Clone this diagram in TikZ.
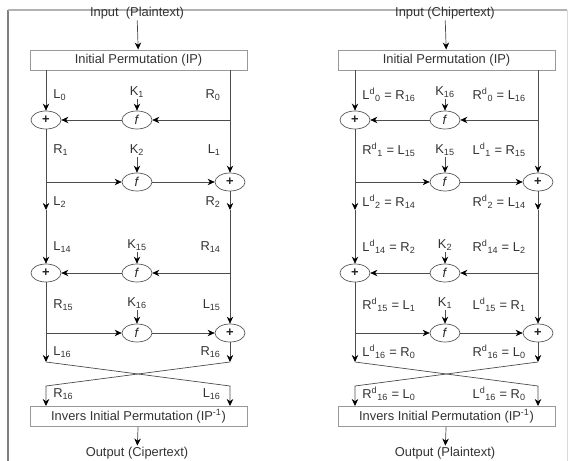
\documentclass[tikz,border=0pt]{standalone}
\usepackage{fontspec}
\setmainfont{Liberation Sans}
\usetikzlibrary{shapes,arrows.meta,calc}
\usetikzlibrary{positioning}

\tikzset{
  permbox/.style={draw=black!40,line width=0.8pt,minimum width=6.51cm,
    minimum height=0.6cm,inner sep=0pt,text=black!80},
  opnode/.style={ellipse,draw=black!65,line width=0.6pt,minimum width=0.9cm,
    minimum height=0.54cm,inner sep=0pt,text=black!85},
  lbl/.style={text=black!80,inner sep=1pt},
  wire/.style={draw=black!70,line width=0.6pt},
  arr/.style={wire,-{Stealth[length=6pt,width=5.5pt,black]}},
}

\begin{document}
\begin{tikzpicture}[x=0.03cm,y=-0.03cm,font=\fontsize{11}{13}\selectfont]
    \useasboundingbox (0,0) rectangle (571,461);
    % Frame
    \draw [black!50,line width=1.5pt] (8,461) -- (8,10);
    \draw [black!30,line width=1.2pt] (8,10) -- (567,10);
    \draw [black!15,line width=0.6pt] (567,10) -- (567,461);

    % Encryption
    \node [lbl] (lin) at (137,13) {Input\ \ (Plaintext)};
    \node [permbox] (lip) at (138.5,60) {Initial Permutation (IP)};
    \draw [arr] (lin) -- (lip);
    % round 1
    \node [opnode] (lx1) at (46,120) {\textbf{+}};
    \node [opnode] (lf1) at (137,120) {\textit{f}};
    \coordinate (lb1) at (230,120);
    \node [lbl] (lk1) at (137,92) {K\textsubscript{1}};
    \node [lbl,anchor=west] (ll0) at (52,95) {L\textsubscript{0}};
    \node [lbl,anchor=east] (lr0) at (222,95) {R\textsubscript{0}};
    \draw [arr] (lk1) -- (lf1);
    \draw [arr] (lip.south -| lx1) -- (lx1);
    \draw [wire] (lip.south -| lb1) -- (lb1);
    \draw [arr] (lb1) -- (lf1);
    \draw [arr] (lf1) -- (lx1);
    % round 2
    \node [opnode] (lf2) at (137,182) {\textit{f}};
    \node [opnode] (lx2) at (230,182) {\textbf{+}};
    \coordinate (lb2) at (46,182);
    \node [lbl] (lk2) at (137,150) {K\textsubscript{2}};
    \node [lbl,anchor=west] (lr1) at (52,150) {R\textsubscript{1}};
    \node [lbl,anchor=east] (ll1) at (222,150) {L\textsubscript{1}};
    \draw [arr] (lk2) -- (lf2);
    \draw [wire] (lx1) -- (lb2);
    \draw [arr] (lb2) -- (lf2);
    \draw [arr] (lf2) -- (lx2);
    \draw [arr] (lb1) -- (lx2);
    \coordinate (la2) at (46,210);
    \coordinate (ra2) at (230,210);
    \draw [arr] (lb2) -- (la2);
    \draw [arr] (lx2) -- (ra2);
    \node [lbl,anchor=west] (ll2) at (52,202) {L\textsubscript{2}};
    \node [lbl,anchor=east] (lr2) at (222,202) {R\textsubscript{2}};
    % round 15
    \node [opnode] (lx3) at (46,273) {\textbf{+}};
    \node [opnode] (lf3) at (137,273) {\textit{f}};
    \coordinate (lb3) at (230,273);
    \node [lbl] (lk3) at (137,245) {K\textsubscript{15}};
    \node [lbl,anchor=west] (ll14) at (52,247) {L\textsubscript{14}};
    \node [lbl,anchor=east] (lr14) at (222,247) {R\textsubscript{14}};
    \draw [arr] (lk3) -- (lf3);
    \draw [arr] (la2) -- (lx3);
    \draw [wire] (ra2) -- (lb3);
    \draw [arr] (lb3) -- (lf3);
    \draw [arr] (lf3) -- (lx3);
    % round 16
    \node [opnode] (lf4) at (137,333) {\textit{f}};
    \node [opnode] (lx4) at (230,333) {\textbf{+}};
    \coordinate (lb4) at (46,333);
    \node [lbl] (lk4) at (137,303) {K\textsubscript{16}};
    \node [lbl,anchor=west] (lr15) at (52,305) {R\textsubscript{15}};
    \node [lbl,anchor=east] (ll15) at (222,305) {L\textsubscript{15}};
    \draw [arr] (lk4) -- (lf4);
    \draw [wire] (lx3) -- (lb4);
    \draw [arr] (lb4) -- (lf4);
    \draw [arr] (lf4) -- (lx4);
    \draw [arr] (lb3) -- (lx4);
    \coordinate (la4) at (46,362);
    \coordinate (ra4) at (230,362);
    \draw [arr] (lb4) -- (la4);
    \draw [arr] (lx4) -- (ra4);
    \node [lbl,anchor=west] (ll16) at (52,352) {L\textsubscript{16}};
    \node [lbl,anchor=east] (lr16) at (222,352) {R\textsubscript{16}};
    % swap
    \node [permbox] (lip2) at (138.5,416.5) {Invers Initial Permutation (IP\textsuperscript{-1})};
    \coordinate (ls1) at (230,386);
    \coordinate (ls2) at (46,386);
    \draw [arr] (la4) -- (ls1) -- (lip2.north -| ls1);
    \draw [arr] (ra4) -- (ls2) -- (lip2.north -| ls2);
    \node [lbl,anchor=west] (lr16b) at (52,394) {R\textsubscript{16}};
    \node [lbl,anchor=east] (ll16b) at (222,394) {L\textsubscript{16}};
    \node [lbl] (lout) at (137,453) {Output (Cipertext)};
    \draw [arr] (lip2) -- (lout);

    % Decryption
    \begin{scope}[shift={(308,0)}]
    \node [lbl] (rin) at (137,13) {Input (Chipertext)};
    \node [permbox] (rip) at (138.5,60) {Initial Permutation (IP)};
    \draw [arr] (rin) -- (rip);
    % round 1
    \node [opnode] (rx1) at (47,120) {\textbf{+}};
    \node [opnode] (rf1) at (137,120) {\textit{f}};
    \coordinate (rb1) at (230,120);
    \node [lbl] (rk1) at (137,92) {K\textsubscript{16}};
    \node [lbl,anchor=west] (rl0) at (53,95) {L\textsuperscript{d}\textsubscript{0} = R\textsubscript{16}};
    \node [lbl,anchor=east] (rr0) at (219,95) {R\textsuperscript{d}\textsubscript{0} = L\textsubscript{16}};
    \draw [arr] (rk1) -- (rf1);
    \draw [arr] (rip.south -| rx1) -- (rx1);
    \draw [wire] (rip.south -| rb1) -- (rb1);
    \draw [arr] (rb1) -- (rf1);
    \draw [arr] (rf1) -- (rx1);
    % round 2
    \node [opnode] (rf2) at (137,182) {\textit{f}};
    \node [opnode] (rx2) at (230,182) {\textbf{+}};
    \coordinate (rb2) at (47,182);
    \node [lbl] (rk2) at (137,150) {K\textsubscript{15}};
    \node [lbl,anchor=west] (rr1) at (53,150) {R\textsuperscript{d}\textsubscript{1} = L\textsubscript{15}};
    \node [lbl,anchor=east] (rl1) at (219,150) {L\textsuperscript{d}\textsubscript{1} = R\textsubscript{15}};
    \draw [arr] (rk2) -- (rf2);
    \draw [wire] (rx1) -- (rb2);
    \draw [arr] (rb2) -- (rf2);
    \draw [arr] (rf2) -- (rx2);
    \draw [arr] (rb1) -- (rx2);
    \coordinate (rla2) at (47,210);
    \coordinate (rra2) at (230,210);
    \draw [arr] (rb2) -- (rla2);
    \draw [arr] (rx2) -- (rra2);
    \node [lbl,anchor=west] (rl2) at (53,202) {L\textsuperscript{d}\textsubscript{2} = R\textsubscript{14}};
    \node [lbl,anchor=east] (rr2) at (219,202) {R\textsuperscript{d}\textsubscript{2} = L\textsubscript{14}};
    % round 15
    \node [opnode] (rx3) at (47,273) {\textbf{+}};
    \node [opnode] (rf3) at (137,273) {\textit{f}};
    \coordinate (rb3) at (230,273);
    \node [lbl] (rk3) at (137,245) {K\textsubscript{2}};
    \node [lbl,anchor=west] (rl14) at (53,247) {L\textsuperscript{d}\textsubscript{14} = R\textsubscript{2}};
    \node [lbl,anchor=east] (rr14) at (219,247) {R\textsuperscript{d}\textsubscript{14} = L\textsubscript{2}};
    \draw [arr] (rk3) -- (rf3);
    \draw [arr] (rla2) -- (rx3);
    \draw [wire] (rra2) -- (rb3);
    \draw [arr] (rb3) -- (rf3);
    \draw [arr] (rf3) -- (rx3);
    % round 16
    \node [opnode] (rf4) at (137,333) {\textit{f}};
    \node [opnode] (rx4) at (230,333) {\textbf{+}};
    \coordinate (rb4) at (47,333);
    \node [lbl] (rk4) at (137,303) {K\textsubscript{1}};
    \node [lbl,anchor=west] (rr15) at (53,305) {R\textsuperscript{d}\textsubscript{15} = L\textsubscript{1}};
    \node [lbl,anchor=east] (rl15) at (219,305) {L\textsuperscript{d}\textsubscript{15} = R\textsubscript{1}};
    \draw [arr] (rk4) -- (rf4);
    \draw [wire] (rx3) -- (rb4);
    \draw [arr] (rb4) -- (rf4);
    \draw [arr] (rf4) -- (rx4);
    \draw [arr] (rb3) -- (rx4);
    \coordinate (rla4) at (47,362);
    \coordinate (rra4) at (230,362);
    \draw [arr] (rb4) -- (rla4);
    \draw [arr] (rx4) -- (rra4);
    \node [lbl,anchor=west] (rl16) at (53,352) {L\textsuperscript{d}\textsubscript{16} = R\textsubscript{0}};
    \node [lbl,anchor=east] (rr16) at (219,352) {R\textsuperscript{d}\textsubscript{16} = L\textsubscript{0}};
    % swap
    \node [permbox] (rip2) at (138.5,416.5) {Invers Initial Permutation (IP\textsuperscript{-1})};
    \coordinate (rs1) at (230,386);
    \coordinate (rs2) at (47,386);
    \draw [arr] (rla4) -- (rs1) -- (rip2.north -| rs1);
    \draw [arr] (rra4) -- (rs2) -- (rip2.north -| rs2);
    \node [lbl,anchor=west] (rr16b) at (53,394) {R\textsuperscript{d}\textsubscript{16} = L\textsubscript{0}};
    \node [lbl,anchor=east] (rl16b) at (219,394) {L\textsuperscript{d}\textsubscript{16} = R\textsubscript{0}};
    \node [lbl] (rout) at (137,453) {Output (Plaintext)};
    \draw [arr] (rip2) -- (rout);
    \end{scope}
\end{tikzpicture}
\end{document}
